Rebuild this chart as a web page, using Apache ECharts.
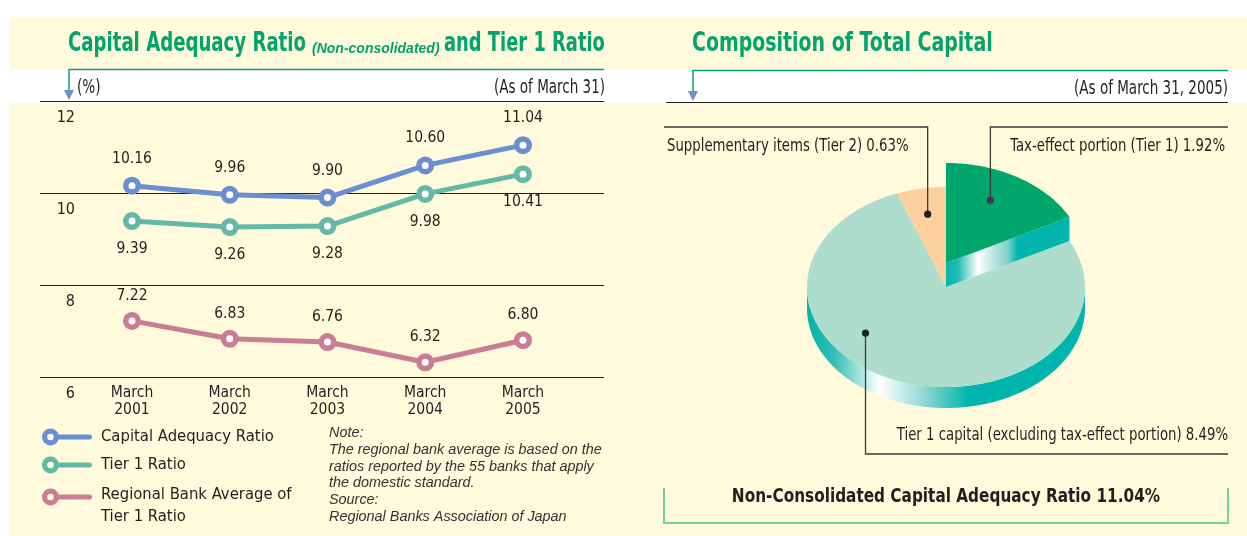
<!DOCTYPE html>
<html><head><meta charset="utf-8">
<script src="https://cdn.jsdelivr.net/npm/echarts@6/dist/echarts.min.js"></script>
<style>html,body{margin:0;padding:0;background:#fff}#c{width:1247px;height:536px}</style>
</head><body><div id="c"></div>
<script>
// ---------- data ----------
const years = ['March 2001', 'March 2002', 'March 2003', 'March 2004', 'March 2005'];
const capitalAdequacy = [10.16, 9.96, 9.90, 10.60, 11.04];
const tier1Ratio = [9.39, 9.26, 9.28, 9.98, 10.41];
const regionalAvg = [7.22, 6.83, 6.76, 6.32, 6.80];
const yTicks = [6, 8, 10, 12];
const seriesNames = ['Capital Adequacy Ratio', 'Tier 1 Ratio', 'Regional Bank Average of Tier 1 Ratio'];
// pie slices, clockwise from 12 o'clock
const pieNames = ['Tax-effect portion (Tier 1)', 'Tier 1 capital (excluding tax-effect portion)', 'Supplementary items (Tier 2)'];
const pieValues = [1.92, 8.49, 0.63];

// ---------- style ----------
const NARROW = '"Liberation Sans Narrow", "Arial Narrow", "DejaVu Sans Condensed", sans-serif';
const SANS = '"Liberation Sans", Arial, sans-serif';
const INK = '#231f20';
const GREEN = '#00a46c';
const CREAM = '#fffadc';
const BLUE = '#6b8ed0', TEAL = '#63b9a6', PINK = '#c97c92';
const ARROW = '#6a8fd0';

const chart = echarts.init(document.getElementById('c'), null, {renderer: 'canvas'});

const ICON = 'path://M0,8.5 A8.5,8.5 0 1,1 17,8.5 A8.5,8.5 0 1,1 0,8.5 Z M5.2,8.5 A3.3,3.3 0 1,0 11.8,8.5 A3.3,3.3 0 1,0 5.2,8.5 Z M16,6 L47.5,6 A2.5,2.5 0 0,1 47.5,11 L16,11 Z';

function lineSeries(name, values, color, pos, dist) {
  return {
    type: 'line', name: name,
    data: values.map((v, i) => [i, v]),
    symbol: 'circle', symbolSize: 12.5, showSymbol: true, clip: false,
    lineStyle: {color: color, width: 5},
    itemStyle: {color: '#fff', borderColor: color, borderWidth: 5.5},
    label: {show: true, position: pos, distance: dist,
      formatter: p => p.value[1].toFixed(2),
      fontFamily: NARROW, fontSize: 15.5, color: INK},
    emphasis: {disabled: true}, z: 3
  };
}

// ---------- 3D pie via custom series ----------
const PIE = {cx: 946, cy: 287, rx: 139, ry: 100, depth: 21, raise: 24};
const pieColors = ['#00a66c', '#aedccd', '#fdd09e'];
const pieExplode = [true, false, false];
const pieLabelLayout = [
  {frac: 0.43, r: 0.705, lineY: 127, lineEnd: 1228, textX: 1225, textY: 146, align: 'right', dot: '#4b2d5e'},
  {frac: 0.61, r: 0.74, lineY: 454, lineEnd: 1228, textX: 1228, textY: 435, align: 'right', dot: INK},
  {frac: 0.5, r: 0.74, lineY: 127, lineEnd: 664, textX: 667, textY: 146, align: 'left', dot: INK}
];
const sideGrad = () => new echarts.graphic.LinearGradient(0, 0, 1, 0, [
  {offset: 0, color: '#00b3ab'}, {offset: 0.1, color: '#35beb6'}, {offset: 0.26, color: '#ffffff'},
  {offset: 0.42, color: '#92d8d3'}, {offset: 0.58, color: '#00b5ad'}, {offset: 1, color: '#00b5ad'}]);
const faceGrad = () => new echarts.graphic.LinearGradient(0, 0, 1, 0, [
  {offset: 0, color: '#00b5ad'}, {offset: 0.1, color: '#25bcb4'}, {offset: 0.26, color: '#ffffff'},
  {offset: 0.5, color: '#7fd0cb'}, {offset: 0.58, color: '#00b5ad'}, {offset: 1, color: '#00b5ad'}]);

function renderSlice(params, api) {
  const i = params.dataIndex;
  const total = pieValues.reduce((a, b) => a + b, 0);
  let start = 0;
  for (let j = 0; j < i; j++) start += pieValues[j];
  const a0 = start / total * Math.PI * 2;
  const a1 = (start + pieValues[i]) / total * Math.PI * 2;
  const lift = pieExplode[i] ? PIE.raise : 0;
  const cy = PIE.cy - lift;
  const pt = (a, dy, k) => [PIE.cx + k * PIE.rx * Math.sin(a), cy - k * PIE.ry * Math.cos(a) + dy];
  const arc = (from, to, dy) => {
    const n = Math.max(2, Math.ceil(Math.abs(to - from) / 0.01));
    const out = [];
    for (let s = 0; s <= n; s++) out.push(pt(from + (to - from) * s / n, dy, 1));
    return out;
  };
  const children = [];
  const z = pieExplode[i] ? 20 : 10;
  const s0 = Math.max(a0, Math.PI / 2), s1 = Math.min(a1, Math.PI * 1.5);
  if (s1 > s0) {
    const pts = arc(s0, s1, 0).concat(arc(s1, s0, PIE.depth));
    children.push({type: 'polygon', z2: z, shape: {points: pts}, style: {fill: sideGrad()}});
  }
  if (pieExplode[i]) {
    const d = PIE.raise;
    children.push({type: 'polygon', z2: z, shape: {points: [pt(a1, 0, 0), pt(a1, 0, 1), pt(a1, d, 1), pt(a1, d, 0)]},
      style: {fill: faceGrad()}});
  }
  children.push({type: 'polygon', z2: z + 1, shape: {points: [[PIE.cx, cy]].concat(arc(a0, a1, 0))},
    style: {fill: pieColors[i]}});
  const L = pieLabelLayout[i];
  const ad = a0 + (a1 - a0) * L.frac;
  const dot = pt(ad, 0, L.r);
  let line;
  if (L.align === 'left') line = [[L.lineEnd, L.lineY], [dot[0], L.lineY], dot];
  else line = [dot, [dot[0], L.lineY], [L.lineEnd, L.lineY]];
  children.push({type: 'polyline', z2: 40, shape: {points: line}, style: {stroke: '#3a3a3a', lineWidth: 1.3, fill: null}});
  children.push({type: 'circle', z2: 41, shape: {cx: dot[0], cy: dot[1], r: 3.6}, style: {fill: L.dot}});
  children.push({type: 'text', z2: 42, x: L.textX, y: L.textY, scaleX: 0.82, style: {
    text: pieNames[i] + ' ' + pieValues[i].toFixed(2) + '%',
    align: L.align, verticalAlign: 'middle', fontFamily: NARROW, fontSize: 18, fill: INK}});
  return {type: 'group', children: children};
}

const pieTotal = pieValues.reduce((a, b) => a + b, 0);

function txt(x, y, text, o) {
  return Object.assign({type: 'text', z: 10, x: x, y: y}, o.el || {}, {style: Object.assign({text: text,
    fontFamily: NARROW, fill: INK, verticalAlign: 'middle', align: 'left'}, o.style)});
}

const option = {
  animation: false,
  graphic: [
    {type: 'rect', z: -5, shape: {x: 10, y: 17, width: 1237, height: 52}, style: {fill: CREAM}},
    {type: 'rect', z: -5, shape: {x: 10, y: 103, width: 1237, height: 433}, style: {fill: CREAM}},
    // titles
    txt(68, 44, 'Capital Adequacy Ratio', {el: {scaleX: 0.775}, style: {fontSize: 26, fontWeight: 'bold', fill: GREEN}}),
    txt(312, 56, '(Non-consolidated)', {style: {fontFamily: SANS, fontSize: 14, fontWeight: 'bold', fontStyle: 'italic', fill: GREEN, verticalAlign: 'bottom'}}),
    txt(444, 44, 'and Tier 1 Ratio', {el: {scaleX: 0.765}, style: {fontSize: 26, fontWeight: 'bold', fill: GREEN}}),
    txt(692, 44, 'Composition of Total Capital', {el: {scaleX: 0.81}, style: {fontSize: 26, fontWeight: 'bold', fill: GREEN}}),
    // header rules and arrows
    {type: 'polyline', z: 10, shape: {points: [[69, 92], [69, 69.5], [604, 69.5]]}, style: {stroke: GREEN, lineWidth: 1.5, fill: null}},
    {type: 'polygon', z: 11, shape: {points: [[64, 90], [74, 90], [69, 100]]}, style: {fill: ARROW}},
    {type: 'polyline', z: 10, shape: {points: [[693, 92], [693, 70.5], [1228, 70.5]]}, style: {stroke: GREEN, lineWidth: 1.5, fill: null}},
    {type: 'polygon', z: 11, shape: {points: [[688, 91], [698, 91], [693, 101]]}, style: {fill: ARROW}},
    {type: 'line', z: 10, shape: {x1: 666, y1: 102.5, x2: 1228, y2: 102.5}, style: {stroke: INK, lineWidth: 1.2}},
    txt(77, 88, '(%)', {el: {scaleX: 0.8}, style: {fontSize: 19}}),
    txt(605, 88, '(As of March 31)', {el: {scaleX: 0.79}, style: {fontSize: 19, align: 'right'}}),
    txt(1228, 89, '(As of March 31, 2005)', {el: {scaleX: 0.79}, style: {fontSize: 19, align: 'right'}}),
    // note
    {type: 'text', z: 10, x: 329, y: 424.5, style: {
      text: 'Note:\nThe regional bank average is based on the\nratios reported by the 55 banks that apply\nthe domestic standard.\nSource:\nRegional Banks Association of Japan',
      fontFamily: SANS, fontSize: 14.4, fontStyle: 'italic', fill: '#333', lineHeight: 16.8, verticalAlign: 'top', align: 'left'}},
    // bottom box
    {type: 'polyline', z: 10, shape: {points: [[664, 488], [664, 523], [1228, 523], [1228, 488]]}, style: {stroke: '#74d0a0', lineWidth: 2, fill: null}},
    txt(946, 497, 'Non-Consolidated Capital Adequacy Ratio ' + pieTotal.toFixed(2) + '%',
      {el: {scaleX: 0.85}, style: {fontSize: 20, fontWeight: 'bold', align: 'center'}})
  ],
  legend: [
    {orient: 'vertical', left: 37, top: 421, itemWidth: 50, itemHeight: 17, itemGap: 6, selectedMode: false,
      data: [
        {name: seriesNames[0], icon: ICON, itemStyle: {color: BLUE, borderWidth: 0}},
        {name: seriesNames[1], icon: ICON, itemStyle: {color: TEAL, borderWidth: 0}}
      ],
      textStyle: {fontFamily: NARROW, fontSize: 16.5, color: INK, lineHeight: 22, padding: [0, 0, 0, 4]}},
    {orient: 'vertical', left: 37, top: 461, itemWidth: 50, itemHeight: 17, selectedMode: false,
      data: [{name: seriesNames[2], icon: ICON, itemStyle: {color: PINK, borderWidth: 0}}],
      formatter: () => '{s| }\n{a|Regional Bank Average of}\n{a|Tier 1 Ratio}',
      textStyle: {fontFamily: NARROW, fontSize: 16.5, color: INK, lineHeight: 22, padding: [0, 0, 0, 4],
        rich: {s: {fontSize: 2, lineHeight: 18}, a: {fontFamily: NARROW, fontSize: 16.5, lineHeight: 22, color: INK}}}}
  ],
  grid: {left: 40, right: 643, top: 101, height: 276, containLabel: false},
  xAxis: {
    type: 'value', min: -0.941, max: 4.829,
    axisLine: {show: false}, axisTick: {show: false}, splitLine: {show: false},
    axisLabel: {customValues: [0, 1, 2, 3, 4], formatter: v => years[Math.round(v)].replace(' ', '\n'),
      fontFamily: NARROW, fontSize: 15.5, lineHeight: 16.5, color: INK, margin: 8}
  },
  yAxis: {
    type: 'value', min: yTicks[0], max: yTicks[yTicks.length - 1], interval: 2,
    axisLine: {show: false}, axisTick: {show: false},
    splitLine: {show: true, lineStyle: {color: INK, width: 1.2}},
    axisLabel: {inside: true, align: 'right', margin: 35, verticalAlign: 'top', padding: [9, 0, 0, 0],
      fontFamily: NARROW, fontSize: 16, color: INK}
  },
  series: [
    lineSeries(seriesNames[0], capitalAdequacy, BLUE, 'top', 10),
    lineSeries(seriesNames[1], tier1Ratio, TEAL, 'bottom', 11),
    lineSeries(seriesNames[2], regionalAvg, PINK, 'top', 8),
    {type: 'custom', coordinateSystem: 'none', silent: true, data: pieValues, renderItem: renderSlice, z: 5}
  ]
};
chart.setOption(option);
</script>
</body></html>
